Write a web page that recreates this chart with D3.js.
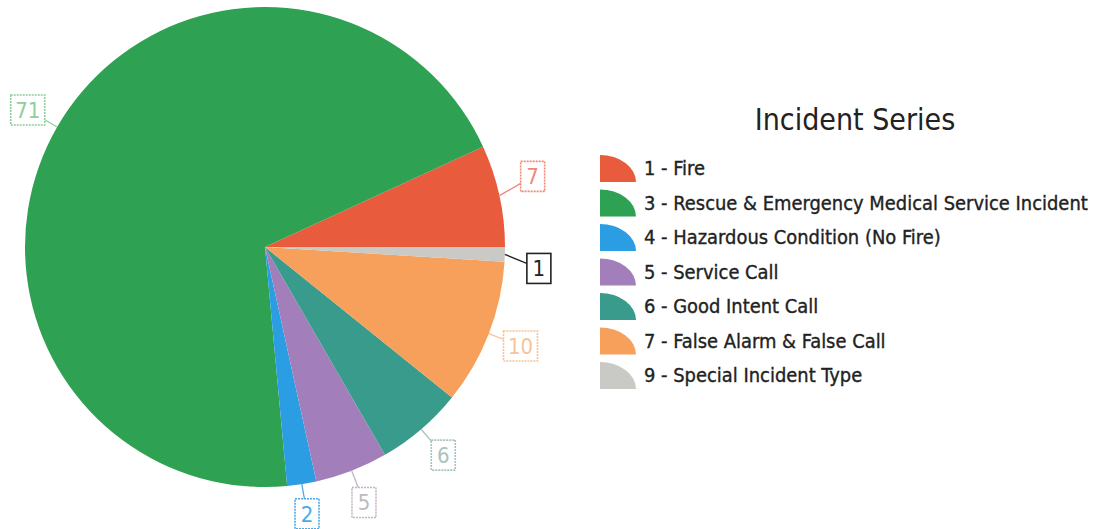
<!DOCTYPE html>
<html>
<head>
<meta charset="utf-8">
<script src="https://cdn.jsdelivr.net/npm/d3@7"></script>
<style>
  body { margin: 0; background: #fff; }
  text { font-family: "DejaVu Sans Condensed", "Liberation Sans", sans-serif; }
</style>
</head>
<body>
<script>
// data
let categories = ["1 - Fire", "3 - Rescue & Emergency Medical Service Incident",
  "4 - Hazardous Condition (No Fire)", "5 - Service Call", "6 - Good Intent Call",
  "7 - False Alarm & False Call", "9 - Special Incident Type"];
let counts = [7, 71, 2, 5, 6, 10, 1];
let colors = ["#e95b3d", "#2fa153", "#2b9de3", "#a27fba", "#399b8b", "#f6a05c", "#c9c9c5"];
let labelColors = ["#f08878", "#8fcd9c", "#4aa9e9", "#c0b8c0", "#a6c4bd", "#f8c396", "#222222"];

let width = 1098, height = 529;
let cx = 265, cy = 247, radius = 240;

let svg = d3.select("body").append("svg")
    .attr("width", width)
    .attr("height", height);

let data = counts.map(function(d, i) { return {name: categories[i], value: d, i: i}; });

// counter-clockwise from 3 o'clock
let pie = d3.pie()
    .sort(null)
    .value(function(d) { return d.value; })
    .startAngle(Math.PI / 2)
    .endAngle(Math.PI / 2 - 2 * Math.PI);

let arc = d3.arc().innerRadius(0).outerRadius(radius);
let edgeArc = d3.arc().innerRadius(radius).outerRadius(radius);
let labelArc = d3.arc().innerRadius(274).outerRadius(274);

let arcs = pie(data);

let g = svg.append("g").attr("transform", "translate(" + cx + "," + cy + ")");

g.selectAll(".slice")
    .data(arcs)
    .enter().append("path")
    .attr("class", "slice")
    .attr("d", arc)
    .attr("fill", function(d) { return colors[d.data.i]; });

// small nudges so the tiny labels don't crowd / fall off the page
let nudge = {0: -12, 6: 13, 2: -4};

let labels = g.selectAll(".lbl")
    .data(arcs)
    .enter().append("g")
    .attr("class", "lbl");

labels.each(function(d) {
  let sel = d3.select(this);
  let e = edgeArc.centroid(d);
  let p = labelArc.centroid(d);
  p[1] += (nudge[d.data.i] || 0);
  let txt = String(d.data.value);
  let w = txt.length > 1 ? 34 : 24, h = 30;
  let c = labelColors[d.data.i];
  sel.append("line")
    .attr("x1", e[0]).attr("y1", e[1])
    .attr("x2", p[0]).attr("y2", p[1])
    .attr("stroke", c).attr("stroke-width", 1.3);
  sel.append("rect")
    .attr("x", p[0] - w / 2).attr("y", p[1] - h / 2)
    .attr("width", w).attr("height", h)
    .attr("fill", "#fff")
    .attr("stroke", c).attr("stroke-width", 1.6)
    .attr("stroke-dasharray", d.data.i === 6 ? null : "2,1");
  sel.append("text")
    .attr("x", p[0]).attr("y", p[1] + 8)
    .attr("text-anchor", "middle")
    .attr("font-size", 22)
    .attr("fill", c)
    .text(txt);
});

// legend
let legend = svg.append("g").attr("transform", "translate(600,0)");

legend.append("text")
    .attr("x", 255).attr("y", 130)
    .attr("text-anchor", "middle")
    .attr("font-size", 30)
    .attr("fill", "#222")
    .text("Incident Series");

let rowY = d3.scaleLinear().domain([0, categories.length - 1]).range([168, 375]);

let items = legend.selectAll(".item")
    .data(data)
    .enter().append("g")
    .attr("class", "item")
    .attr("transform", function(d) { return "translate(0," + rowY(d.i) + ")"; });

items.append("path")
    .attr("d", "M0,14 L0,-13 A36,27 0 0 1 36,14 Z")
    .attr("fill", function(d) { return colors[d.i]; });

let itemText = items.append("text")
    .attr("x", 44).attr("y", 7)
    .attr("font-size", 19)
    .attr("fill", "#222")
    .attr("stroke", "#222")
    .attr("stroke-width", 0.35)
    .text(function(d) { return d.name; });

// size the legend font so the longest entry spans like the original
let longest = d3.max(itemText.nodes(), function(n) { return n.getComputedTextLength(); });
itemText.attr("font-size", 19 * 444 / longest);
</script>
</body>
</html>
